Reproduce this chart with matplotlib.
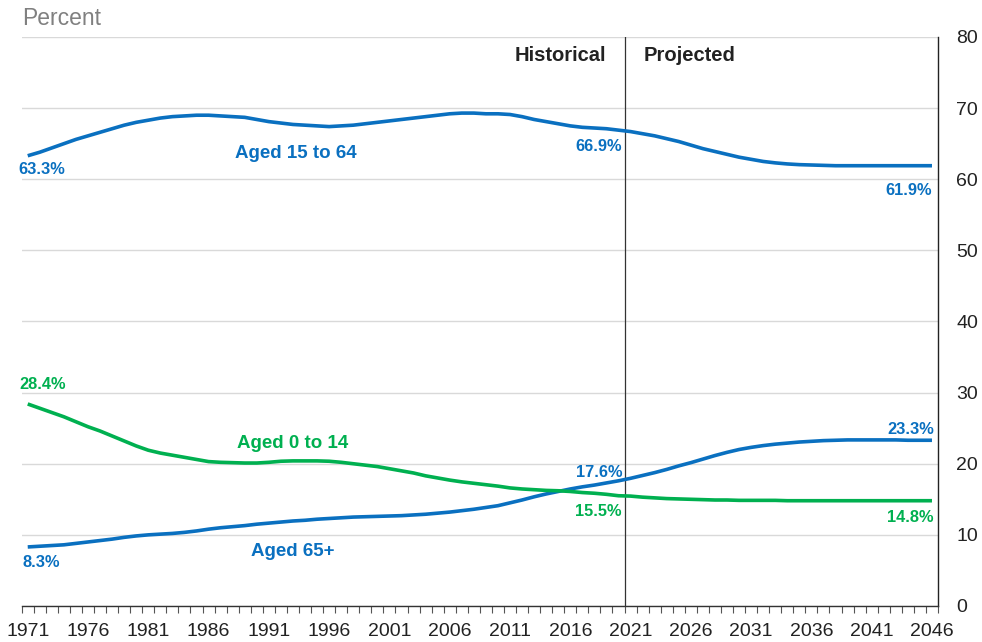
import numpy as np
import matplotlib
matplotlib.use("Agg")
import matplotlib.pyplot as plt
from matplotlib.ticker import FixedLocator, NullFormatter

plt.rcParams['font.family'] = ['Liberation Sans', 'DejaVu Sans']

years = list(range(1971, 2047))

aged_15_64 = [
    63.3, 63.8, 64.4, 65.0, 65.6, 66.1, 66.6, 67.1, 67.6, 68.0,
    68.3, 68.6, 68.8, 68.9, 69.0, 69.0, 68.9, 68.8, 68.7, 68.4,
    68.1, 67.9, 67.7, 67.6, 67.5, 67.4, 67.5, 67.6, 67.8, 68.0,
    68.2, 68.4, 68.6, 68.8, 69.0, 69.2, 69.3, 69.3, 69.2, 69.2,
    69.1, 68.8, 68.4, 68.1, 67.8, 67.5, 67.3, 67.2, 67.1, 66.9,
    66.7, 66.4, 66.1, 65.7, 65.3, 64.8, 64.3, 63.9, 63.5, 63.1,
    62.8, 62.5, 62.3, 62.15, 62.05, 62.0, 61.95, 61.9, 61.9, 61.9,
    61.9, 61.9, 61.9, 61.9, 61.9, 61.9,
]

aged_65_plus = [
    8.3, 8.4, 8.5, 8.6, 8.8, 9.0, 9.2, 9.4, 9.65, 9.85,
    10.0, 10.1, 10.2, 10.35, 10.55, 10.8, 11.0, 11.15, 11.3, 11.5,
    11.65, 11.8, 11.95, 12.05, 12.2, 12.3, 12.4, 12.5, 12.55, 12.6,
    12.65, 12.7, 12.8, 12.9, 13.05, 13.2, 13.4, 13.6, 13.85, 14.1,
    14.5, 14.9, 15.35, 15.75, 16.1, 16.45, 16.75, 17.0, 17.3, 17.6,
    17.95, 18.35, 18.75, 19.2, 19.7, 20.15, 20.65, 21.15, 21.6, 22.0,
    22.3, 22.55, 22.75, 22.9, 23.05, 23.15, 23.25, 23.3, 23.35, 23.35,
    23.35, 23.35, 23.35, 23.3, 23.3, 23.3,
]

aged_0_14 = [
    28.4, 27.8, 27.2, 26.6, 25.9, 25.2, 24.6, 23.9, 23.2, 22.5,
    21.9, 21.5, 21.2, 20.9, 20.6, 20.3, 20.2, 20.15, 20.1, 20.1,
    20.2, 20.35, 20.4, 20.4, 20.4, 20.35, 20.2, 20.0, 19.8, 19.6,
    19.3, 19.0, 18.7, 18.3, 18.0, 17.7, 17.45, 17.25, 17.05, 16.85,
    16.6, 16.45, 16.35, 16.25, 16.2, 16.1, 15.95, 15.85, 15.7, 15.5,
    15.45, 15.3, 15.2, 15.1, 15.05, 15.0, 14.95, 14.9, 14.9, 14.85,
    14.85, 14.85, 14.85, 14.8, 14.8, 14.8, 14.8, 14.8, 14.8, 14.8,
    14.8, 14.8, 14.8, 14.8, 14.8, 14.8,
]

tick_years = list(range(1971, 2047, 5))
y_ticks = [0, 10, 20, 30, 40, 50, 60, 70, 80]

BLUE = '#0A70C0'
GREEN = '#00B050'

fig = plt.figure(figsize=(9.82, 6.42), dpi=100)
ax = fig.add_axes([0.0221, 0.0561, 0.9331, 0.8863])

ax.plot(years, aged_15_64, color=BLUE, lw=2.6, solid_capstyle='butt', zorder=3)
ax.plot(years, aged_65_plus, color=BLUE, lw=2.6, solid_capstyle='butt', zorder=3)
ax.plot(years, aged_0_14, color=GREEN, lw=2.6, solid_capstyle='butt', zorder=3)

ax.set_xlim(years[0] - 0.5, years[-1] + 0.5)
ax.set_ylim(0, 80)

# y axis on right
ax.yaxis.tick_right()
ax.set_yticks(y_ticks)
ax.tick_params(axis='y', length=0, pad=13, labelsize=14, labelcolor='#222222')
ax.grid(axis='y', color='#D9D9D9', lw=1.0, zorder=0)
ax.set_axisbelow(True)

# x axis: labels at category centers, ticks at category boundaries
ax.set_xticks(tick_years)
ax.set_xticklabels([str(y) for y in tick_years])
ax.xaxis.set_minor_locator(FixedLocator([y - 0.5 for y in years] + [years[-1] + 0.5]))
ax.xaxis.set_minor_formatter(NullFormatter())
ax.tick_params(axis='x', which='major', length=0, pad=12, labelsize=14, labelcolor='#222222')
ax.tick_params(axis='x', which='minor', length=5, width=0.8, color='#555555', direction='out')

for s in ['left', 'top']:
    ax.spines[s].set_visible(False)
ax.spines['bottom'].set_color('#333333')
ax.spines['bottom'].set_linewidth(1.0)
ax.spines['right'].set_color('#222222')
ax.spines['right'].set_linewidth(1.0)

# Historical / projected divider
ax.axvline(2020.5, color='#333333', lw=0.9, zorder=2)
ax.annotate('Historical', xy=(2020.5, 77.4), xytext=(-13, 0), textcoords='offset points',
            ha='right', va='center', fontsize=14.5, fontweight='bold', color='#222222')
ax.annotate('Projected', xy=(2020.5, 77.4), xytext=(14, 0), textcoords='offset points',
            ha='left', va='center', fontsize=14.5, fontweight='bold', color='#222222')

# Series labels
ax.text(1993.2, 63.6, 'Aged 15 to 64', ha='center', va='center', fontsize=13.5,
        fontweight='bold', color=BLUE)
ax.text(1993.0, 22.9, 'Aged 0 to 14', ha='center', va='center', fontsize=13.5,
        fontweight='bold', color=GREEN)
ax.text(1993.0, 7.6, 'Aged 65+', ha='center', va='center', fontsize=13.5,
        fontweight='bold', color=BLUE)

def vlabel(series, idx, dx, dy, ha, color):
    ax.annotate(f'{series[idx]:.1f}%', xy=(years[idx], series[idx]), xytext=(dx, dy),
                textcoords='offset points', ha=ha, va='center', fontsize=11.8,
                fontweight='bold', color=color)

i2020 = years.index(2020)
vlabel(aged_15_64, 0, 10, -10, 'center', BLUE)
vlabel(aged_15_64, i2020, 2.7, -11.8, 'right', BLUE)
vlabel(aged_15_64, -1, 0, -17.8, 'right', BLUE)
vlabel(aged_0_14, 0, 10.6, 13.7, 'center', GREEN)
vlabel(aged_0_14, i2020, 2, -11.4, 'right', GREEN)
vlabel(aged_0_14, -1, 1, -12.4, 'right', GREEN)
vlabel(aged_65_plus, 0, 9.5, -11.5, 'center', BLUE)
vlabel(aged_65_plus, i2020, 2.7, 5.7, 'right', BLUE)
vlabel(aged_65_plus, -1, 1.4, 7.9, 'right', BLUE)

fig.text(0.0224, 0.9712, 'Percent', ha='left', va='center', fontsize=16.5, color='#808080')

fig.savefig('out.png', dpi=100)
